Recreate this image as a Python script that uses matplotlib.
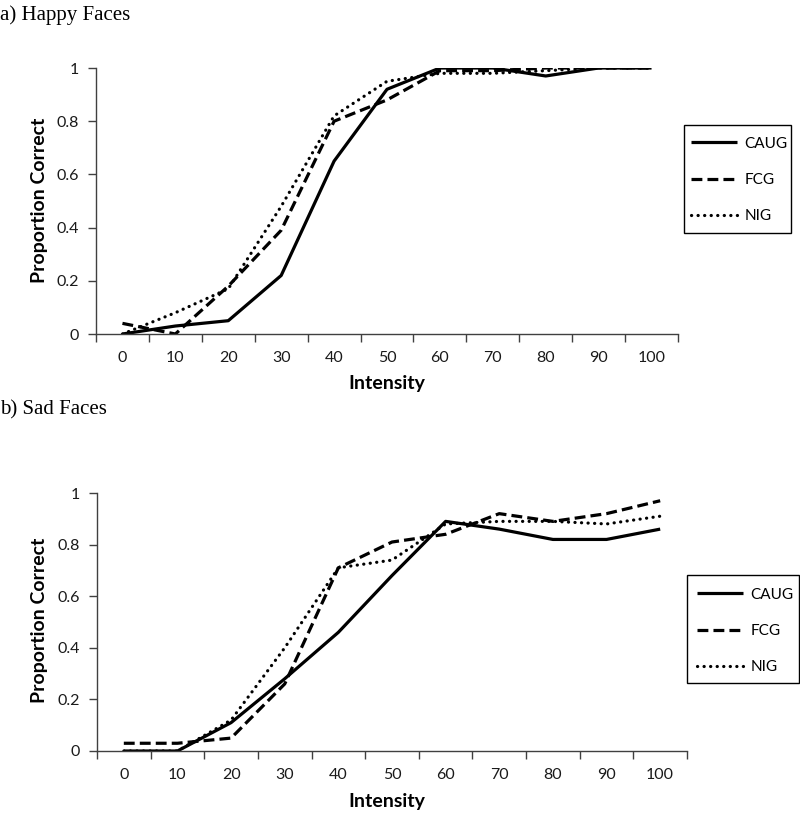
import matplotlib
matplotlib.use("Agg")
import matplotlib.pyplot as plt
from matplotlib.patches import Rectangle

intensity = [0, 10, 20, 30, 40, 50, 60, 70, 80, 90, 100]
series_names = ["CAUG", "FCG", "NIG"]

happy_caug = [0.00, 0.03, 0.05, 0.22, 0.65, 0.92, 1.00, 1.00, 0.97, 1.00, 1.00]
happy_fcg = [0.04, 0.00, 0.18, 0.39, 0.80, 0.88, 0.99, 0.99, 1.00, 1.00, 1.00]
happy_nig = [0.00, 0.08, 0.17, 0.48, 0.82, 0.95, 0.98, 0.98, 0.99, 1.00, 1.00]

sad_caug = [0.00, 0.00, 0.11, 0.28, 0.46, 0.68, 0.89, 0.86, 0.82, 0.82, 0.86]
sad_fcg = [0.03, 0.03, 0.05, 0.26, 0.71, 0.81, 0.84, 0.92, 0.89, 0.92, 0.97]
sad_nig = [0.00, 0.00, 0.12, 0.40, 0.71, 0.74, 0.88, 0.89, 0.89, 0.88, 0.91]

y_ticks = [0, 0.2, 0.4, 0.6, 0.8, 1.0]
y_tick_labels = ["0", "0.2", "0.4", "0.6", "0.8", "1"]

W, H = 800, 814
fig = plt.figure(figsize=(W / 100, H / 100), dpi=100)

sans = ["Lato", "DejaVu Sans"]
serif = ["Liberation Serif", "DejaVu Serif"]

styles = [
    dict(color="black", lw=2.3, linestyle="-", solid_capstyle="butt"),
    dict(color="black", lw=2.3, linestyle=(0, (3.4, 1.6)), dash_capstyle="butt"),
    dict(color="black", lw=2.3, linestyle=(0, (0.05, 2.0)), dash_capstyle="round"),
]


def px_rect(left, top, right, bottom):
    return [left / W, 1 - bottom / H, (right - left) / W, (bottom - top) / H]


def draw_panel(rect, data, title, title_y, ylab_y, xlab_y, leg_box, leg_anchor):
    ax = fig.add_axes(px_rect(*rect))
    xs = list(range(len(intensity)))
    handles = []
    for vals, st, name in zip(data, styles, series_names):
        ln, = ax.plot(xs, vals, label=name, **st)
        handles.append(ln)
    ax.set_xlim(-0.5, len(intensity) - 0.5)
    ax.set_ylim(0, 1)
    for s in ["top", "right"]:
        ax.spines[s].set_visible(False)
    for s in ["left", "bottom"]:
        ax.spines[s].set_linewidth(1.0)
        ax.spines[s].set_color("#404040")
    ax.set_xticks([i - 0.5 for i in range(len(intensity) + 1)])
    ax.set_xticklabels([])
    ax.set_xticks(xs, minor=True)
    ax.set_xticklabels([str(v) for v in intensity], minor=True, fontfamily=sans, fontsize=11.5)
    ax.tick_params(axis="x", which="major", direction="out", length=6, width=1, color="#404040")
    ax.tick_params(axis="x", which="minor", length=0, pad=12)
    ax.set_yticks(y_ticks)
    ax.set_yticklabels(y_tick_labels, fontfamily=sans, fontsize=11.5)
    ax.tick_params(axis="y", direction="out", length=6, width=1, color="#404040", pad=6)
    for lab in ax.get_xticklabels(minor=True) + ax.get_yticklabels():
        lab.set_color("#1a1a1a")

    fig.text(0.0 / W, 1 - title_y / H, title, fontfamily=serif, fontsize=15,
             ha="left", va="center")
    fig.text(40 / W, 1 - ylab_y / H, "Proportion Correct", fontfamily=sans, fontsize=14,
             fontweight="bold", rotation=90, ha="center", va="center")
    fig.text(387 / W, 1 - xlab_y / H, "Intensity", fontfamily=sans, fontsize=14,
             fontweight="bold", ha="center", va="center")

    x0, y0, x1, y1 = leg_box
    fig.patches.append(Rectangle((x0 / W, 1 - y1 / H), (x1 - x0) / W, (y1 - y0) / H,
                                 transform=fig.transFigure, fill=False,
                                 edgecolor="black", linewidth=1.0))
    fig.legend(handles=handles, loc="center left",
               bbox_to_anchor=(leg_anchor[0] / W, 1 - leg_anchor[1] / H),
               borderaxespad=0, borderpad=0, frameon=False,
               prop=dict(family=sans, size=11), handlelength=3.0,
               handletextpad=0.5, labelspacing=1.47)
    return ax


draw_panel((96, 68, 678, 334), [happy_caug, happy_fcg, happy_nig], "a) Happy Faces",
           15, 200, 383, (684, 125, 791, 233), (691, 180))
draw_panel((97, 493, 687, 751), [sad_caug, sad_fcg, sad_nig], "b) Sad Faces",
           410, 620, 802, (687, 575, 799, 683), (697, 631))

fig.savefig("out.png", dpi=100)
